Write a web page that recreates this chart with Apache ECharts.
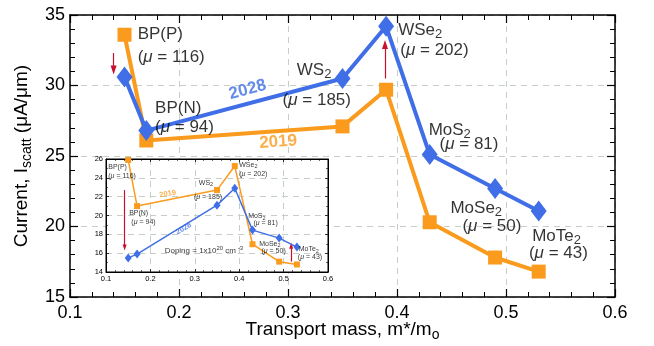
<!DOCTYPE html>
<html><head><meta charset="utf-8">
<script src="https://cdn.jsdelivr.net/npm/echarts@6/dist/echarts.min.js"></script>
<style>html,body{margin:0;padding:0;background:#fff}#c{width:654px;height:346px}</style>
</head><body><div id="c"></div>
<script>
// ---------- data ----------
const massRatio   = [0.15, 0.17, 0.35, 0.39, 0.43, 0.49, 0.53];
const current2019 = [33.6, 26.1, 27.1, 29.7, 20.3, 17.8, 16.8];
const current2028 = [30.6, 26.8, 30.5, 34.2, 25.1, 22.7, 21.1];
const inset2019   = [25.9, 21.0, 22.7, 25.25, 16.95, 15.1, 14.8];
const inset2028   = [15.5, 15.9, 21.1, 22.9, 18.45, 17.6, 16.65];
const materials   = ['BP(P)', 'BP(N)', 'WS2', 'WSe2', 'MoS2', 'MoSe2', 'MoTe2'];
const mobility    = [116, 94, 185, 202, 81, 50, 43];
const xRange      = [0.1, 0.6, 0.1];
const yRangeMain  = [15, 35, 5];
const yRangeInset = [14, 26, 2];
// annotation anchors (data space): material name / mobility text
const nameAtMain  = [[0.162, 33.6], [0.178, 28.4], [0.308, 31.1], [0.401, 33.9], [0.429, 26.8], [0.449, 21.3], [0.524, 19.3]];
const muAtMain    = [[0.162, 32.0], [0.178, 27.05], [0.295, 28.95], [0.403, 32.5], [0.439, 25.8], [0.460, 20.0], [0.521, 18.1]];
const nameAtInset = [[0.105, 25.15], [0.152, 20.3], [0.309, 23.45], [0.400, 25.4], [0.420, 19.9], [0.445, 17.0], [0.534, 16.4]];
const muAtInset   = [[0.105, 24.2], [0.157, 19.3], [0.298, 22.0], [0.400, 24.4], [0.432, 19.2], [0.450, 16.2], [0.532, 15.6]];
const yearAtMain  = [[0.263, 29.7, '2028'], [0.291, 26.0, '2019']];
const yearAtInset = [[0.275, 18.6, '2028'], [0.239, 22.3, '2019']];
const dopingAt    = [0.232, 16.3];
const arrowsMain  = [[0.140, 32.3, 31.1], [0.389, 30.5, 32.9]];
const arrowsInset = [[0.142, 22.7, 16.6], [0.517, 15.1, 16.8]];

// ---------- styles ----------
const FONT = '"Liberation Sans", Arial, Helvetica, sans-serif';
const ORANGE = '#FA9B1E', BLUE = '#3F6EE6', RED = '#C8102E';
const GRIDC = '#C5CFC5';

const pts = ys => massRatio.map((x, i) => [x, ys[i]]);
const fmtName = n => n.replace(/(\d)$/, '{s|$1}');
const fmtMu = m => '({i|\u03bc} = ' + m + ')';

const chart = echarts.init(document.getElementById('c'), null, {renderer: 'canvas'});

function xAx(grid, pos, labels, fs, tickLen, minorLen, z) {
  return {
    type: 'value', gridIndex: grid, position: pos, min: xRange[0], max: xRange[1], interval: xRange[2],
    z: z,
    axisLine: {show: true, onZero: false, lineStyle: {color: '#000', width: grid === 0 ? 1.5 : 1}},
    axisTick: {show: true, inside: true, length: tickLen, lineStyle: {color: '#000', width: grid === 0 ? 1.2 : 0.8}},
    minorTick: {show: true, splitNumber: 5, length: minorLen, lineStyle: {color: '#000', width: grid === 0 ? 1 : 0.6}},
    axisLabel: {show: labels, color: '#000', fontSize: fs, fontFamily: FONT, margin: grid === 0 ? 7 : 3,
      formatter: v => v.toFixed(1)},
    splitLine: {show: pos === 'bottom', lineStyle: {color: GRIDC, type: [6, 5], width: 1}}
  };
}
function yAx(grid, pos, range, labels, fs, tickLen, minorLen, minorSplit, z) {
  return {
    type: 'value', gridIndex: grid, position: pos, min: range[0], max: range[1], interval: range[2],
    z: z,
    axisLine: {show: true, onZero: false, lineStyle: {color: '#000', width: grid === 0 ? 1.5 : 1}},
    axisTick: {show: true, inside: true, length: tickLen, lineStyle: {color: '#000', width: grid === 0 ? 1.2 : 0.8}},
    minorTick: {show: true, splitNumber: minorSplit, length: minorLen, lineStyle: {color: '#000', width: grid === 0 ? 1 : 0.6}},
    axisLabel: {show: labels, color: '#000', fontSize: fs, fontFamily: FONT, margin: grid === 0 ? 5 : 3},
    splitLine: {show: pos === 'left', lineStyle: {color: GRIDC, type: [6, 5], width: 1}}
  };
}

function noteSeries(xi, yi, items, z, size) {
  return {
    type: 'scatter', xAxisIndex: xi, yAxisIndex: yi, symbolSize: size, silent: true, z: z,
    itemStyle: {color: 'rgba(0,0,0,0)'}, emphasis: {disabled: true},
    data: items.map(it => ({value: [it[0], it[1]], label: it[2]}))
  };
}
function mainLabel(text) {
  return {show: true, position: 'right', distance: 0, formatter: text, color: '#000',
    fontSize: 17, fontFamily: FONT, align: 'left', verticalAlign: 'middle',
    rich: {s: {fontSize: 13, fontFamily: FONT, color: '#000', padding: [8, 0, 0, 0]},
           i: {fontSize: 17, fontFamily: FONT, color: '#000', fontStyle: 'italic'}}};
}
function insetLabel(text) {
  return {show: true, position: 'right', distance: 0, formatter: text, color: '#000',
    fontSize: 7, fontFamily: FONT, align: 'left', verticalAlign: 'middle',
    rich: {s: {fontSize: 5.5, fontFamily: FONT, color: '#000', padding: [3.5, 0, 0, 0]},
           i: {fontSize: 7, fontFamily: FONT, color: '#000', fontStyle: 'italic'},
           p: {fontSize: 6, fontFamily: FONT, color: '#000', padding: [0, 0, 4, 0]}}};
}
function yearLabel(text, size, rot) {
  return {show: true, position: 'inside', formatter: text, color: text === '2028' ? BLUE : ORANGE,
    fontSize: size, fontWeight: 'bold', fontFamily: FONT, rotate: rot, align: 'center', verticalAlign: 'middle'};
}
function arrows(list, size) {
  return {silent: true, symbol: ['none', 'triangle'], symbolSize: size, animation: false,
    lineStyle: {color: RED, width: 1.2, type: 'solid'}, label: {show: false}, emphasis: {disabled: true},
    data: list.map(a => [{coord: [a[0], a[1]]}, {coord: [a[0], a[2]]}])};
}

const mainNotes = [];
materials.forEach((m, i) => {
  mainNotes.push([nameAtMain[i][0], nameAtMain[i][1], mainLabel(fmtName(m))]);
  mainNotes.push([muAtMain[i][0], muAtMain[i][1], mainLabel(fmtMu(mobility[i]))]);
});
const mainYears = yearAtMain.map(y => [y[0], y[1], yearLabel(y[2], 17, y[2] === '2028' ? 15 : 4)]);

const insetNotes = [];
materials.forEach((m, i) => {
  insetNotes.push([nameAtInset[i][0], nameAtInset[i][1], insetLabel(fmtName(m))]);
  insetNotes.push([muAtInset[i][0], muAtInset[i][1], insetLabel(fmtMu(mobility[i]))]);
});
insetNotes.push([dopingAt[0], dopingAt[1], Object.assign(insetLabel('Doping = 1x10{p|20} cm{p| -3}'), {fontSize: 8})]);
const insetYears = yearAtInset.map(y => [y[0], y[1], yearLabel(y[2], 7.5, y[2] === '2028' ? 31 : 10)]);

const option = {
  animation: false,
  backgroundColor: '#fff',
  grid: [
    {left: 70, right: 39, top: 15, bottom: 49, show: false, outerBoundsMode: 'none', containLabel: false},
    {left: 106, right: 326, top: 159, bottom: 74, show: true, backgroundColor: '#fff', borderColor: '#000', borderWidth: 1, z: 5,
     outerBoundsMode: 'none', containLabel: false}
  ],
  xAxis: [
    Object.assign(xAx(0, 'bottom', true, 18, 8, 5, 1), {
      name: 'Transport mass, m*/m{s|o}', nameLocation: 'middle', nameGap: 21, nameMoveOverlap: false,
      nameTextStyle: {color: '#000', fontSize: 19, fontFamily: FONT, verticalAlign: 'top',
        rich: {s: {fontSize: 14, fontFamily: FONT, color: '#000', padding: [10, 0, 0, 0]}}}
    }),
    xAx(0, 'top', false, 18, 8, 5, 1),
    xAx(1, 'bottom', true, 7.5, 3, 2, 6),
    xAx(1, 'top', false, 7.5, 3, 2, 6)
  ],
  yAxis: [
    Object.assign(yAx(0, 'left', yRangeMain, true, 18, 8, 5, 5, 1), {
      name: 'Current, I{s|scatt} (\u03bcA/\u03bcm)', nameLocation: 'middle', nameGap: 36, nameRotate: 90, nameMoveOverlap: false,
      nameTextStyle: {color: '#000', fontSize: 19, fontFamily: FONT,
        rich: {s: {fontSize: 14, fontFamily: FONT, color: '#000', padding: [10, 0, 0, 0]}}}
    }),
    yAx(0, 'right', yRangeMain, false, 18, 8, 5, 5, 1),
    yAx(1, 'left', yRangeInset, true, 7.5, 3, 2, 2, 6),
    yAx(1, 'right', yRangeInset, false, 7.5, 3, 2, 2, 6)
  ],
  series: [
    {type: 'line', name: '2019', xAxisIndex: 0, yAxisIndex: 0, data: pts(current2019), z: 3,
     symbol: 'rect', symbolSize: 14, lineStyle: {color: ORANGE, width: 4}, itemStyle: {color: ORANGE},
     emphasis: {disabled: true}, markLine: arrows(arrowsMain, [6, 9])},
    {type: 'line', name: '2028', xAxisIndex: 0, yAxisIndex: 0, data: pts(current2028), z: 4,
     symbol: 'diamond', symbolSize: [16, 21], lineStyle: {color: BLUE, width: 4}, itemStyle: {color: BLUE},
     emphasis: {disabled: true}},
    noteSeries(0, 0, mainNotes, 8, 0.1),
    noteSeries(0, 0, mainYears, 8, 4),
    {type: 'line', name: '2019 inset', xAxisIndex: 2, yAxisIndex: 2, data: pts(inset2019), z: 10,
     symbol: 'rect', symbolSize: 6, lineStyle: {color: ORANGE, width: 1.5}, itemStyle: {color: ORANGE},
     emphasis: {disabled: true}, markLine: arrows(arrowsInset, [4, 6])},
    {type: 'line', name: '2028 inset', xAxisIndex: 2, yAxisIndex: 2, data: pts(inset2028), z: 11,
     symbol: 'diamond', symbolSize: [7, 9], lineStyle: {color: BLUE, width: 1.5}, itemStyle: {color: BLUE},
     emphasis: {disabled: true}},
    noteSeries(2, 2, insetNotes, 12, 0.1),
    noteSeries(2, 2, insetYears, 12, 4)
  ]
};
chart.setOption(option);
</script></body></html>
